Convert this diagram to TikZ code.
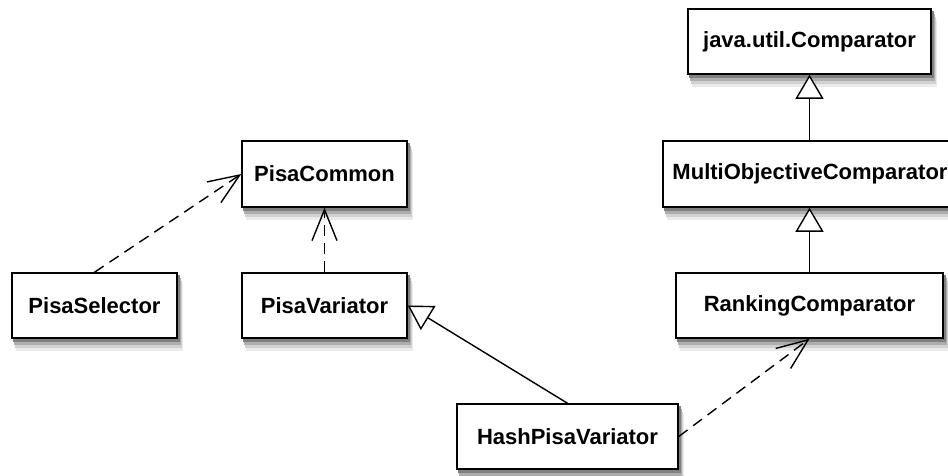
\documentclass[tikz,border=0pt]{standalone}
\usepackage{fontspec}
\setmainfont{Liberation Sans}
\usetikzlibrary{arrows.meta,backgrounds}
\tikzset{
  classbox/.style={draw,line width=1.5pt,fill=white,minimum height=65pt,
    font=\bfseries\fontsize{22}{26}\selectfont,inner sep=0pt},
  uses/.style={line width=1.4pt,dash pattern=on 11pt off 7pt,-{Straight Barb[length=31pt,width=25pt,line width=1.4pt]}},
  extends/.style={line width=1.4pt,-{Triangle[length=24pt,width=28pt,fill=white,line width=1.4pt]}}
}
\begin{document}
\begin{tikzpicture}[x=1pt,y=-1pt]
      \useasboundingbox (0,0) rectangle (948,475);
      \node[classbox,minimum width=243pt] (comparator) at (809.5,41.5) {java.util.Comparator};
      \node[classbox,minimum width=294pt,minimum height=66pt] (multiobj) at (810,174) {MultiObjectiveComparator};
      \node[classbox,minimum width=267pt] (ranking) at (809.5,305.5) {RankingComparator};
      \node[classbox,minimum width=165pt,minimum height=66pt] (common) at (324.5,174) {PisaCommon};
      \node[classbox,minimum width=165pt] (selector) at (94.5,305.5) {PisaSelector};
      \node[classbox,minimum width=165pt] (variator) at (324.5,305.5) {PisaVariator};
      \node[classbox,minimum width=221pt] (hash) at (567.5,436.5) {HashPisaVariator};
      % soft shadows under the class boxes
      \begin{scope}[on background layer]
        \foreach \n in {comparator,multiobj,ranking,common,selector,variator,hash}{
          \fill[black!8] ([shift={(5,12)}]\n.north west) rectangle ([shift={(5,12)}]\n.south east);
          \fill[black!18] ([shift={(4,9)}]\n.north west) rectangle ([shift={(4,9)}]\n.south east);
          \fill[black!32] ([shift={(3,6)}]\n.north west) rectangle ([shift={(3,6)}]\n.south east);
          \fill[black!50] ([shift={(2,3)}]\n.north west) rectangle ([shift={(2,3)}]\n.south east);
        }
      \end{scope}
      \draw[uses] (selector.north) -- (common.west);
      \draw[uses] (variator.north) -- (common.south);
      \draw[extends] (hash.north) -- (variator.east);
      \draw[uses] (hash.east) -- (ranking.south);
      \draw[extends] (multiobj.north -| comparator.south) -- (comparator.south);
      \draw[extends] (ranking.north) -- (ranking.north |- multiobj.south);
     \end{tikzpicture}
\end{document}
